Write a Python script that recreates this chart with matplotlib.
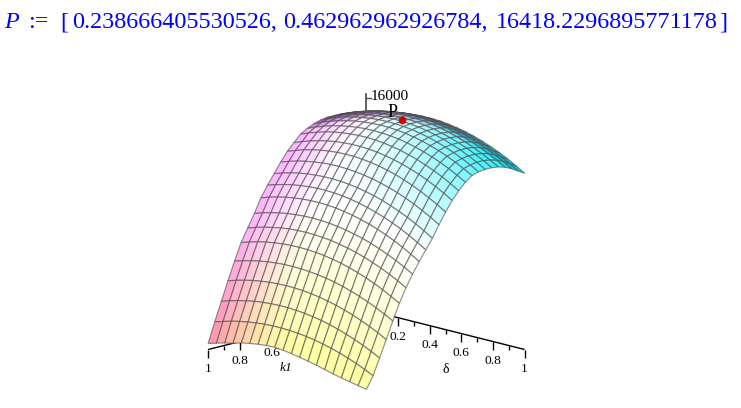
import numpy as np
from matplotlib import pyplot as plt

plt.rcParams['font.family'] = ['Liberation Serif', 'DejaVu Serif']

# grid of the surface
k1_vals = [i / 24 for i in range(25)]
delta_vals = [j / 19 for j in range(20)]

# z values, one row per k1, one column per delta
z_rows = [
    [14740, 14980, 15180, 15350, 15490, 15590, 15650, 15680, 15680, 15640, 15560, 15450, 15310, 15130, 14910, 14660, 14380, 14060, 13700, 13310],
    [14890, 15140, 15350, 15530, 15670, 15780, 15850, 15890, 15890, 15860, 15790, 15690, 15550, 15380, 15170, 14930, 14650, 14340, 13990, 13610],
    [15040, 15300, 15520, 15700, 15850, 15970, 16050, 16090, 16110, 16080, 16020, 15930, 15800, 15630, 15430, 15200, 14930, 14630, 14290, 13910],
    [15190, 15450, 15670, 15860, 16020, 16140, 16220, 16270, 16290, 16270, 16210, 16120, 16000, 15830, 15640, 15410, 15140, 14840, 14510, 14140],
    [15270, 15530, 15760, 15950, 16110, 16230, 16320, 16380, 16390, 16380, 16330, 16240, 16120, 15960, 15770, 15540, 15280, 14990, 14650, 14290],
    [15270, 15530, 15770, 15960, 16130, 16250, 16350, 16400, 16420, 16410, 16370, 16280, 16170, 16010, 15830, 15600, 15350, 15050, 14730, 14360],
    [15270, 15530, 15770, 15960, 16130, 16250, 16340, 16400, 16410, 16410, 16360, 16280, 16170, 16010, 15830, 15600, 15350, 15050, 14730, 14360],
    [15190, 15460, 15690, 15890, 16050, 16180, 16270, 16330, 16350, 16340, 16290, 16210, 16090, 15940, 15750, 15530, 15270, 14980, 14650, 14290],
    [15040, 15310, 15540, 15740, 15900, 16030, 16120, 16180, 16200, 16190, 16140, 16060, 15940, 15790, 15600, 15380, 15120, 14830, 14500, 14140],
    [14810, 15070, 15300, 15490, 15640, 15760, 15850, 15900, 15910, 15890, 15830, 15750, 15620, 15460, 15260, 15030, 14770, 14470, 14130, 13760],
    [14510, 14760, 14970, 15150, 15300, 15400, 15470, 15510, 15520, 15480, 15420, 15310, 15180, 15000, 14800, 14550, 14280, 13970, 13620, 13240],
    [13990, 14230, 14440, 14610, 14750, 14860, 14920, 14960, 14960, 14920, 14850, 14740, 14600, 14420, 14210, 13970, 13690, 13370, 13020, 12630],
    [13460, 13690, 13890, 14050, 14180, 14270, 14330, 14350, 14340, 14290, 14200, 14090, 13930, 13750, 13520, 13260, 12970, 12640, 12280, 11880],
    [12780, 12990, 13170, 13310, 13420, 13500, 13540, 13550, 13520, 13460, 13370, 13250, 13090, 12900, 12680, 12420, 12130, 11800, 11450, 11050],
    [12030, 12230, 12400, 12540, 12640, 12700, 12740, 12740, 12710, 12640, 12540, 12410, 12250, 12050, 11810, 11550, 11250, 10920, 10550, 10150],
    [11280, 11480, 11650, 11780, 11880, 11950, 11990, 11990, 11960, 11890, 11790, 11660, 11490, 11290, 11060, 10800, 10500, 10170, 9800, 9400],
    [10450, 10660, 10830, 10970, 11070, 11150, 11180, 11190, 11160, 11100, 11000, 10870, 10710, 10520, 10290, 10030, 9730, 9410, 9040, 8650],
    [9400, 9600, 9770, 9910, 10020, 10090, 10140, 10150, 10130, 10080, 9990, 9880, 9730, 9560, 9350, 9100, 8830, 8530, 8190, 7820],
    [8420, 8630, 8800, 8940, 9060, 9140, 9180, 9200, 9180, 9130, 9060, 8940, 8800, 8630, 8420, 8180, 7920, 7620, 7280, 6920],
    [7450, 7650, 7820, 7960, 8060, 8140, 8180, 8190, 8170, 8120, 8040, 7920, 7780, 7600, 7390, 7150, 6880, 6570, 6230, 5870],
    [6170, 6360, 6520, 6650, 6750, 6820, 6860, 6870, 6850, 6800, 6720, 6620, 6480, 6310, 6110, 5880, 5620, 5330, 5010, 4660],
    [4810, 5010, 5170, 5310, 5410, 5490, 5530, 5550, 5530, 5490, 5410, 5310, 5170, 5010, 4810, 4590, 4330, 4050, 3730, 3380],
    [3380, 3590, 3760, 3900, 4020, 4100, 4150, 4170, 4170, 4130, 4060, 3960, 3840, 3680, 3490, 3270, 3030, 2750, 2440, 2110],
    [1960, 2150, 2330, 2470, 2580, 2670, 2730, 2760, 2760, 2730, 2680, 2590, 2480, 2340, 2170, 1970, 1750, 1500, 1210, 900],
    [450, 640, 810, 950, 1130, 1250, 1350, 1410, 1430, 1370, 1270, 1150, 1020, 870, 700, 530, 390, 260, 120, 0],
]

P = [0.238666405530526, 0.462962962926784, 16418.2296895771178]

k1_ticks = [0.2, 0.4, 0.6, 0.8, 1]
k1_labels = ['', '', '0.6', '0.8', '1']
delta_ticks = [0.2, 0.4, 0.6, 0.8, 1]
delta_labels = ['0.2', '0.4', '0.6', '0.8', '1']
minor_ticks = [0.1, 0.3, 0.5, 0.7, 0.9]

K, D = np.meshgrid(k1_vals, delta_vals, indexing='ij')
Z = np.array(z_rows, dtype=float)

ELEV = 14.57
AZIM = 45


def surface_colors(K, D, Z):
    # Maple style lights: magenta left, cyan right, yellow front, red corner
    dzk, dzd = np.gradient(Z / 16000 * 0.978, k1_vals, delta_vals)
    nrm = np.sqrt(dzk**2 + dzd**2 + 1)
    e = np.radians(ELEV)
    a = np.radians(AZIM)
    facing = (-dzk * np.cos(e) * np.cos(a) - dzd * np.cos(e) * np.sin(a) + np.sin(e)) / nrm
    dark = np.clip((0.28 - facing) / 0.25, 0, 1) * 0.8

    mag = np.clip(1 - D / 0.38, 0, 1)**1.4
    cyan = np.clip((D - 0.3) / 0.6, 0, 1) * np.clip((0.62 - K) / 0.5, 0, 1)
    yel = np.clip((K - 0.6) / 0.4, 0, 1)**1.6 * np.clip(D + 0.45, 0, 1)
    red = np.clip((K - 0.7) / 0.3, 0, 1)**1.5 * np.clip(1 - D / 0.55, 0, 1)

    r = 1 - 0.85 * cyan - 0.6 * dark
    g = 1 - 0.29 * mag - 0.14 * red - 0.05 * cyan - 0.75 * dark
    b = 1 - 0.42 * yel - 0.2 * red - 0.35 * dark - 0.3 * cyan * dark
    return np.clip(np.dstack([r, g, b, np.ones_like(r)]), 0, 1)


fig = plt.figure(figsize=(7.41, 4.08), dpi=100)
W, H = 741, 408

# axes square centred near the middle of the 3d box
size = 400
cx, cy = 361, 249
ax = fig.add_axes([(cx - size / 2) / W, (H - cy - size / 2) / H, size / W, size / H],
                  projection='3d', computed_zorder=False)
ax.set_proj_type('ortho')
ax.view_init(elev=ELEV, azim=AZIM)
ax.set_xlim(0, 1, view_margin=0)
ax.set_ylim(0, 1, view_margin=0)
ax.set_zlim(0, 16000, view_margin=0)
ax.set_box_aspect((1, 1, 0.978), zoom=0.934)
ax.set_axis_off()
ax.patch.set_alpha(0)

# axes, drawn first so that the surface covers them
axis_kw = dict(color='black', lw=1, zorder=1, solid_capstyle='butt')
ax.plot([0, 1], [0, 0], [0, 0], **axis_kw)
ax.plot([0, 0], [0, 1], [0, 0], **axis_kw)
ax.plot([0, 0], [0, 0], [0, 16300], color='#555555', lw=1.3, zorder=1)
ax.plot([0, -0.016], [0, 0.016], [16000, 16000], color='#555555', lw=1, zorder=1)

for t, lab in zip(k1_ticks, k1_labels):
    ax.plot([t, t], [0, 0], [0, -620], **axis_kw)
    ax.text(t, 0, -1480, lab, fontsize=9.7, ha='center', va='center', zorder=1)
for t, lab in zip(delta_ticks, delta_labels):
    ax.plot([0, 0], [t, t], [0, -620], **axis_kw)
    ax.text(0, t, -1480, lab, fontsize=9.7, ha='center', va='center', zorder=1)
for t in minor_ticks:
    ax.plot([t, t], [0, 0], [0, -300], **axis_kw)
    ax.plot([0, 0], [t, t], [0, -300], **axis_kw)

ax.text(0.51, 0, -2860, 'k1', fontsize=9.7, style='italic', ha='center', va='center', zorder=1)
ax.text(0, 0.5, -3000, '\u03b4', fontsize=10, ha='center', va='center', zorder=1)
ax.text(0.0, 0.19, 2030, '0', fontsize=9.7, ha='center', va='center', zorder=1)
ax.text(-0.008, 0.02, 16130, '16000', fontsize=11, ha='left', va='center', zorder=5)

surf = ax.plot_surface(K, D, Z, rstride=1, cstride=1, facecolors=surface_colors(K, D, Z),
                       shade=False, linewidth=0.85, antialiased=True, zorder=2)
surf.set_edgecolor((0.3, 0.3, 0.3, 0.62))

ax.scatter([P[0]], [P[1]], [P[2]], s=24, c='#d40000', marker='h', depthshade=False, zorder=4)
ax.text(P[0] + 0.03, P[1] - 0.03, P[2] + 600, 'P', fontsize=13, ha='center', va='center', zorder=5)

# the Maple output line above the plot
blue = '#0000ff'
base_y = 1 - 28 / H
fig.text(4 / W, base_y, 'P', color=blue, fontsize=17.4, style='italic', va='baseline')
fig.text(28 / W, base_y, ':=', color=blue, fontsize=17.4, va='baseline')
fig.text(60.5 / W, base_y, '[', color=blue, fontsize=17.4, va='baseline')
fig.text(72 / W, base_y, '%.15f,' % P[0], color=blue, fontsize=17.4, va='baseline')
fig.text(283.5 / W, base_y, '%.15f,' % P[1], color=blue, fontsize=17.4, va='baseline')
fig.text(496 / W, base_y, '16418.2296895771178', color=blue, fontsize=17.4, va='baseline')
fig.text(727 / W, base_y, ']', color=blue, fontsize=17.4, va='baseline', ha='right')

fig.savefig('out.png', dpi=100)
